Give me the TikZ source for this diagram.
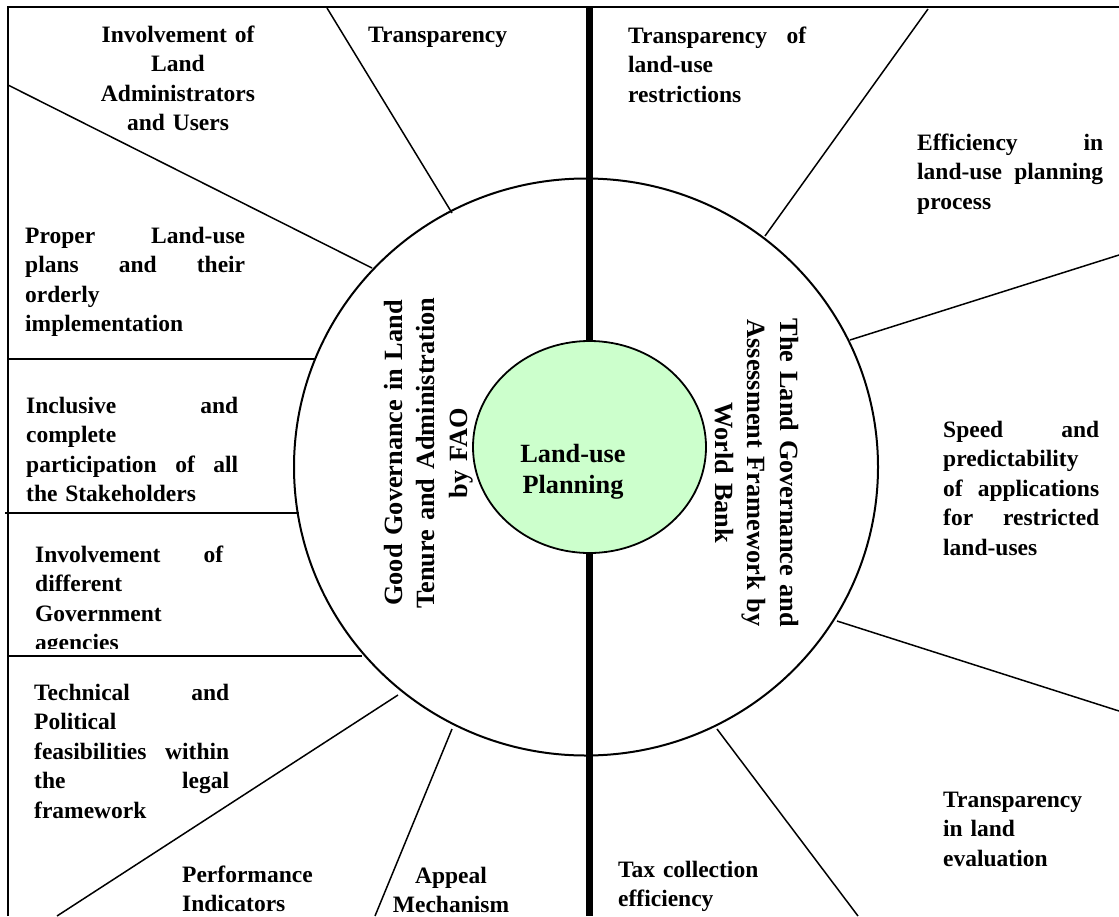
\documentclass[tikz,border=0pt]{standalone}
\usepackage{fontspec}
\setmainfont{Liberation Serif}
\usetikzlibrary{shapes.geometric}
% a justified line: words pushed apart to fill the given width
\newcommand\spreadline[2]{\leavevmode\hbox to #1{#2}}
\definecolor{hubgreen}{RGB}{204,255,204}
\begin{document}
\begin{tikzpicture}[x=1pt,y=-1pt,
  frame/.style={line width=2pt},
  spoke/.style={line width=1.5pt},
  axis/.style={line width=7pt},
  item/.style={font=\fontsize{23.5}{29.5}\selectfont\bfseries,
    inner sep=0pt, anchor=base west, align=left, text width=#1},
  item/.default=220pt,
  ctitem/.style={font=\fontsize{23.5}{29.5}\selectfont\bfseries,
    inner sep=0pt, anchor=base, align=center, text width=#1},
  ctitem/.default=200pt,
  heading/.style={font=\fontsize{26.3}{32.5}\selectfont\bfseries,
    inner sep=0pt, anchor=base, align=center, text width=360pt},
]
\useasboundingbox (0,0) rectangle (1119,916);

% outer frame (top and left edges)
\draw[frame] (8,916) -- (8,7) -- (1119,7);

% spoke end points: outer ends and ends on the ring
\coordinate (s1o) at (327,8);    \coordinate (s1i) at (452,213);
\coordinate (s2o) at (8,85);     \coordinate (s2i) at (372,268);
\coordinate (s3o) at (8,359);    \coordinate (s3i) at (315,359);
\coordinate (s4o) at (5,513);    \coordinate (s4i) at (299,513);
\coordinate (s5o) at (8,656);    \coordinate (s5i) at (362,656);
\coordinate (s6o) at (57,916);   \coordinate (s6i) at (398,695);
\coordinate (s7o) at (375,916);  \coordinate (s7i) at (452,729);
\coordinate (s8o) at (858,916);  \coordinate (s8i) at (717,729);
\coordinate (s9o) at (1119,711); \coordinate (s9i) at (837,621);
\coordinate (s10o) at (1119,255);\coordinate (s10i) at (850,340);
\coordinate (s11o) at (928,9);   \coordinate (s11i) at (765,236);

\foreach \k in {1,...,11}
  \draw[spoke] (s\k o) -- (s\k i);

% ring of the two frameworks
\draw[line width=2pt] (586,467) ellipse [x radius=292, y radius=288.5];

% dividing axis between the two frameworks
\coordinate (axtop) at (589.5,7);
\coordinate (axbot) at (589.5,916);
\draw[axis] (axtop) -- (axbot);

% hub
\node[draw, line width=1.8pt, fill=hubgreen, ellipse, minimum width=233,
  minimum height=212, inner sep=0pt] (hub) at (589.5,447) {};
\node[heading, font=\fontsize{26.3}{31}\selectfont\bfseries, text width=200pt]
  (hubtext) at (573,462) {Land-use\\Planning};

% framework titles
\node[heading, rotate=90] (fao) at (402,453)
  {Good Governance in Land\\Tenure and Administration\\by FAO};
\node[heading, rotate=-90] (wb) at (780,473)
  {The Land Governance and\\Assessment Framework by\\World Bank};

% FAO criteria
\node[ctitem] (c1) at (178,42)
  {Involvement of\\Land\\Administrators\\and Users};
\node[item] (c2) at (368,42) {Transparency};
\node[item=220pt] (c3) at (25,243)
  {\spreadline{220pt}{Proper\hfill Land-use}\\
   \spreadline{220pt}{plans\hfill and\hfill their}\\orderly\\implementation};
\node[item=212pt] (c4) at (26,413)
  {\spreadline{212pt}{Inclusive\hfill and}\\complete\\
   \spreadline{212pt}{participation\hfill of\hfill all}\\the Stakeholders};
\begin{scope}
  \clip (10,520) rectangle (300,648);
  \node[item=188pt] (c5) at (35,562)
    {\spreadline{188pt}{Involvement\hfill of}\\different\\Government\\agencies};
\end{scope}
\node[item=195pt] (c6) at (34,700)
  {\spreadline{195pt}{Technical\hfill and}\\Political\\
   \spreadline{195pt}{feasibilities\hfill within}\\
   \spreadline{195pt}{the\hfill legal}\\framework};
\node[item] (c7) at (182,882) {Performance\\Indicators};
\node[ctitem=150pt] (c8) at (451,883) {Appeal\\Mechanism};

% World Bank criteria
\node[item=178pt] (w1) at (628,43)
  {\spreadline{178pt}{Transparency\hfill of}\\land-use\\restrictions};
\node[item=186pt] (w2) at (917,150)
  {\spreadline{186pt}{Efficiency\hfill in}\\
   \spreadline{186pt}{land-use\hfill planning}\\process};
\node[item=156pt] (w3) at (943,437)
  {\spreadline{156pt}{Speed\hfill and}\\predictability\\
   \spreadline{156pt}{of\hfill applications}\\
   \spreadline{156pt}{for\hfill restricted}\\land-uses};
\node[item=170pt] (w4) at (943,807) {Transparency\\in land\\evaluation};
\node[item=170pt] (w5) at (618,877) {Tax collection\\efficiency};
\end{tikzpicture}
\end{document}
